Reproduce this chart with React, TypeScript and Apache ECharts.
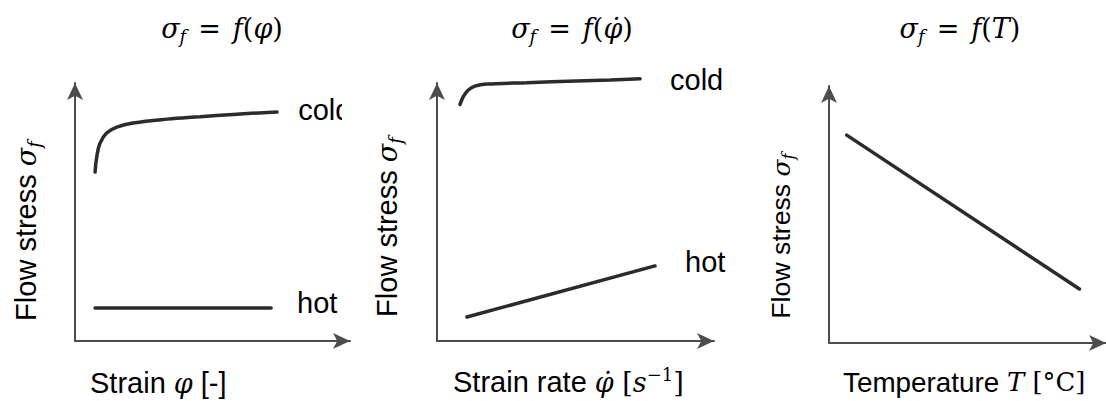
import React, { useEffect, useRef } from "react";
import * as echarts from "echarts";

// Flow stress vs. strain (cold / hot forming)
const strainColdX = [7.3, 7.9, 9.1, 11.5, 15.2, 21.1, 33.5, 45.5, 57.5, 73.5];
const strainColdY = [65.5, 71.3, 76.7, 80.6, 82.9, 84.5, 86.0, 86.9, 87.8, 88.8];
const strainHotX = [7.3, 71.3];
const strainHotY = [12.8, 12.8];

// Flow stress vs. strain rate
const rateColdX = [8.3, 9.5, 11.3, 13.7, 17.9, 32.4, 50.4, 62.5, 73.3];
const rateColdY = [91.7, 94.7, 97.3, 98.8, 99.6, 100.1, 100.8, 101.2, 101.6];
const rateHotX = [10.8, 78.7];
const rateHotY = [9.3, 29.1];

// Flow stress vs. temperature
const tempX = [6.4, 90.4];
const tempY = [80.9, 21.0];

const seriesNames = ["cold", "hot"];

const SANS = "'Liberation Sans', Arial, sans-serif";
const SERIF = "'DejaVu Serif', 'Liberation Serif', serif";
const INK = "#2b2b2b";
const AXIS = "#4d4d4d";

const zip = (xs: number[], ys: number[]) => xs.map((x, i) => [x, ys[i]]);

function makeRich(k: number) {
  return {
    t: { fontFamily: SANS, fontSize: 29 * k, lineHeight: 34 * k, fill: "#000" },
    m: { fontFamily: SERIF, fontStyle: "italic", fontSize: 27 * k, lineHeight: 34 * k, fill: "#000" },
    n: { fontFamily: SERIF, fontSize: 27 * k, lineHeight: 34 * k, fill: "#000" },
    eq: { fontFamily: SERIF, fontSize: 27, lineHeight: 34, fill: "#000", padding: [0, 12, 0, 12] },
    s: { fontFamily: SERIF, fontStyle: "italic", fontSize: 18 * k, lineHeight: 16 * k, verticalAlign: "bottom", fill: "#000" },
    p: { fontFamily: SERIF, fontSize: 18 * k, lineHeight: 16 * k, verticalAlign: "top", fill: "#000" },
  };
}
const richMain = makeRich(1);
const richSmall = makeRich(0.92);
const richTemp = makeRich(0.96);

function text(x: number, y: number, t: string, align = "center", rotation = 0, rich = richMain) {
  return {
    type: "text",
    x,
    y,
    rotation,
    z: 50,
    style: { text: t, rich, align, verticalAlign: "middle" },
  };
}

function axisPair(idx: number) {
  const axisLine = {
    show: true,
    symbol: ["none", "arrow"],
    symbolSize: [12, 17],
    lineStyle: { color: AXIS, width: 2 },
  };
  const common = {
    type: "value",
    gridIndex: idx,
    min: 0,
    max: 100,
    axisLine,
    axisTick: { show: false },
    axisLabel: { show: false },
    splitLine: { show: false },
  };
  return { x: { ...common }, y: { ...common } };
}

function lineSeries(idx: number, data: number[][], smooth: number | boolean, label?: string, distance = 20, offset = [0, 0]) {
  return {
    type: "line",
    xAxisIndex: idx,
    yAxisIndex: idx,
    data,
    smooth,
    clip: false,
    showSymbol: false,
    symbol: "none",
    lineStyle: { color: INK, width: 3.5, cap: "round" },
    endLabel: label
      ? {
          show: true,
          formatter: label,
          distance,
          offset,
          color: "#000",
          fontFamily: SANS,
          fontSize: 29,
        }
      : undefined,
  };
}

export default function App() {
  const ref = useRef<HTMLDivElement>(null);

  useEffect(() => {
    if (!ref.current) return;
    const chart = echarts.init(ref.current, undefined, { renderer: "svg" });
    const axes = [0, 1, 2].map(axisPair);

    chart.setOption({
      animation: false,
      backgroundColor: "#fff",
      grid: [
        { left: 75, top: 83, width: 275, height: 258 },
        { left: 437, top: 83, width: 277, height: 258 },
        { left: 829, top: 86, width: 281, height: 257 },
      ],
      xAxis: axes.map((a) => a.x),
      yAxis: axes.map((a) => a.y),
      series: [
        lineSeries(0, zip(strainColdX, strainColdY), 0.4, seriesNames[0], 21, [0, -2]),
        lineSeries(0, zip(strainHotX, strainHotY), false, seriesNames[1], 26, [0, -5]),
        lineSeries(1, zip(rateColdX, rateColdY), 0.3, seriesNames[0], 30, [0, 1]),
        lineSeries(1, zip(rateHotX, rateHotY), false, seriesNames[1], 30, [0, -4]),
        lineSeries(2, zip(tempX, tempY), false),
      ],
      graphic: [
        // titles
        text(222, 28, "{m|σ}{s|f}{eq|=}{m|f}{n|(}{m|φ}{n|)}"),
        text(572, 28, "{m|σ}{s|f}{eq|=}{m|f}{n|(}{m|φ̇}{n|)}"),
        text(960, 28, "{m|σ}{s|f}{eq|=}{m|f}{n|(}{m|T}{n|)}"),
        // y-axis names
        text(26, 231, "{t|Flow stress }{m|σ}{s|f}", "center", Math.PI / 2),
        text(387, 227, "{t|Flow stress }{m|σ}{s|f}", "center", Math.PI / 2),
        text(781, 236, "{t|Flow stress }{m|σ}{s|f}", "center", Math.PI / 2, richSmall),
        // x-axis names
        text(90, 383, "{t|Strain }{m|φ}{t| [-]}", "left"),
        text(453, 382, "{t|Strain rate }{m|φ̇}{n| [}{m|s}{p|−1}{n|]}", "left"),
        text(843, 382, "{t|Temperature }{m|T}{n| [°C]}", "left", 0, richTemp),
        // right edge of the first panel cuts its label
        {
          type: "rect",
          z: 60,
          shape: { x: 342, y: 92, width: 22, height: 38 },
          style: { fill: "#fff" },
        },
      ],
    });

    return () => chart.dispose();
  }, []);

  return (
    <div
      ref={ref}
      style={{ position: "fixed", left: 0, top: 0, width: 1106, height: 401, background: "#fff" }}
    />
  );
}
